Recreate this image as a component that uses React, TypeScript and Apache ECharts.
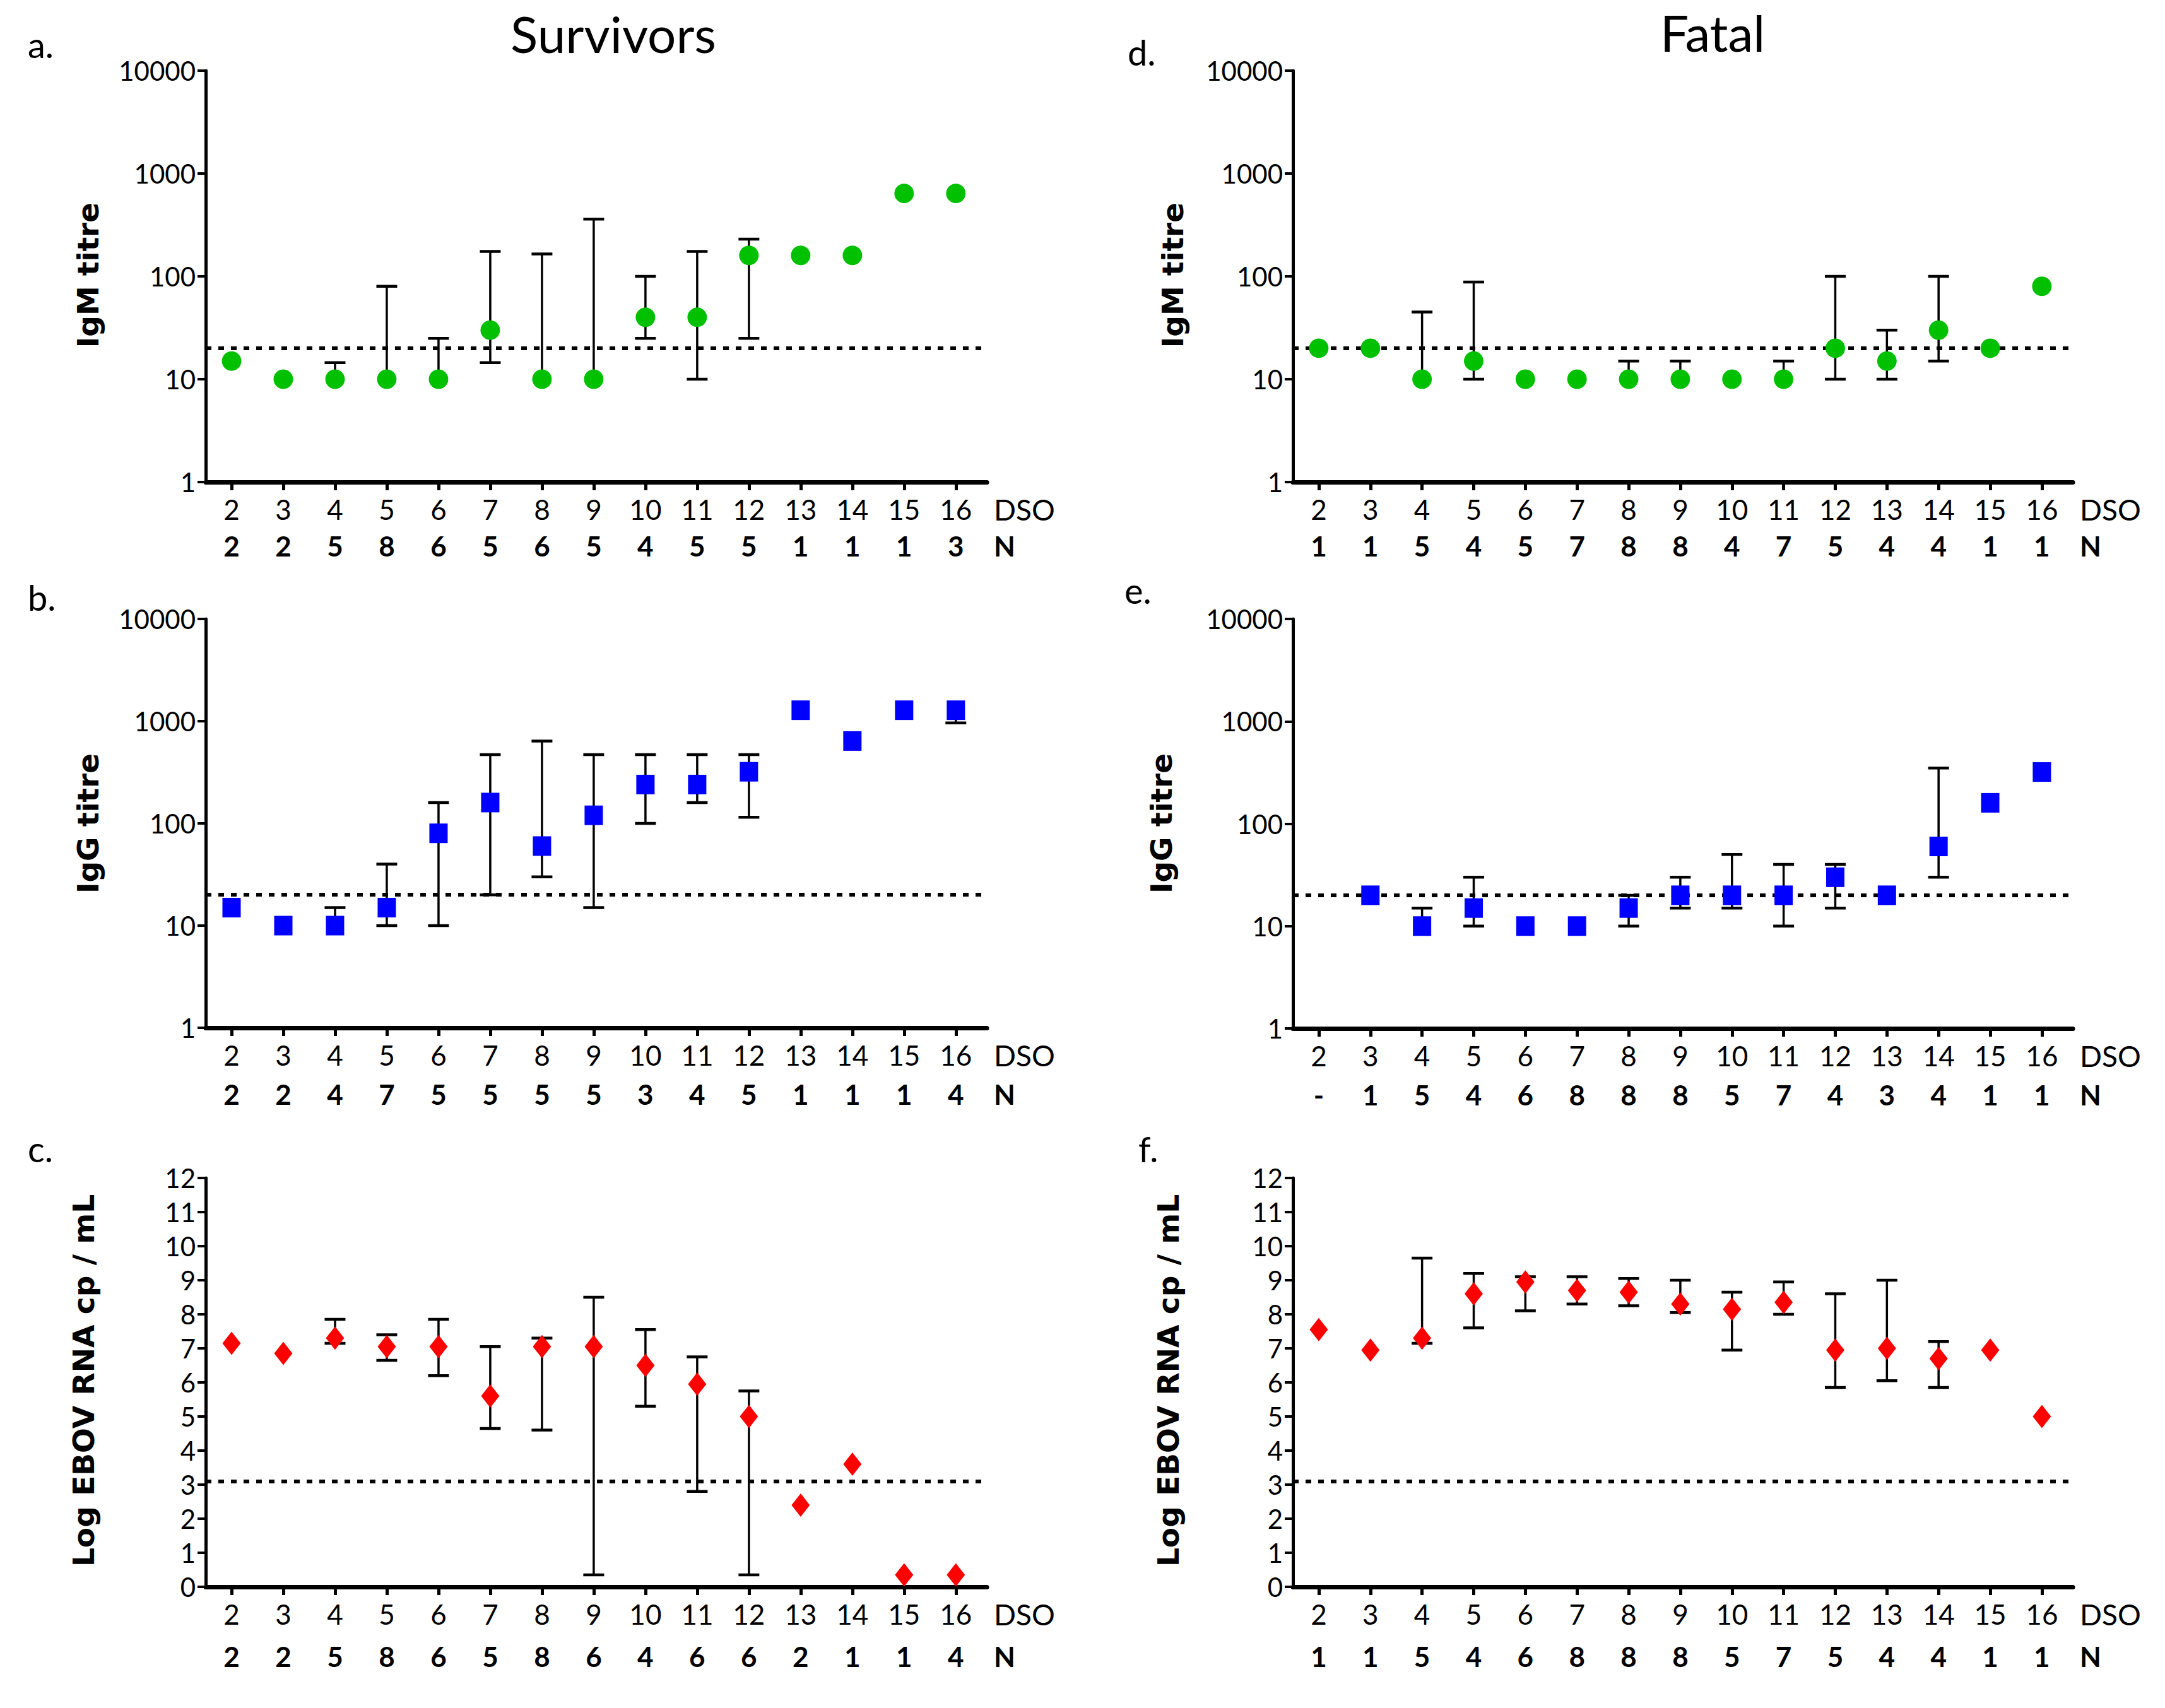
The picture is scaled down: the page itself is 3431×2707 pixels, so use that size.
import React, { useEffect, useRef } from "react";
import * as echarts from "echarts";

// ---------- data ----------
const DSO = [2, 3, 4, 5, 6, 7, 8, 9, 10, 11, 12, 13, 14, 15, 16];

const TITRE_CUTOFF = 20;
const RNA_CUTOFF = 3.1;

// a. Survivors IgM
const survIgmMean = [15, 10, 10, 10, 10, 30, 10, 10, 40, 40, 160, 160, 160, 640, 640];
const survIgmLow = [null, null, null, null, null, 14.5, null, null, 25, 10, 25, null, null, null, null];
const survIgmHigh = [null, null, 14.5, 80, 25, 175, 165, 360, 100, 175, 230, null, null, null, null];
const survIgmN = ["2", "2", "5", "8", "6", "5", "6", "5", "4", "5", "5", "1", "1", "1", "3"];

// b. Survivors IgG
const survIggMean = [15, 10, 10, 15, 80, 160, 60, 120, 240, 240, 320, 1280, 640, 1280, 1280];
const survIggLow = [null, null, null, 10, 10, 20, 30, 15, 100, 160, 115, null, null, null, 960];
const survIggHigh = [null, null, 15, 40, 160, 470, 640, 470, 470, 470, 470, null, null, null, null];
const survIggN = ["2", "2", "4", "7", "5", "5", "5", "5", "3", "4", "5", "1", "1", "1", "4"];

// c. Survivors RNA
const survRnaMean = [7.15, 6.85, 7.3, 7.05, 7.05, 5.6, 7.05, 7.05, 6.5, 5.95, 5.0, 2.4, 3.6, 0.35, 0.35];
const survRnaLow = [null, null, 7.15, 6.65, 6.2, 4.65, 4.6, 0.35, 5.3, 2.8, 0.35, null, null, null, null];
const survRnaHigh = [null, null, 7.85, 7.4, 7.85, 7.05, 7.3, 8.5, 7.55, 6.75, 5.75, null, null, null, null];
const survRnaN = ["2", "2", "5", "8", "6", "5", "8", "6", "4", "6", "6", "2", "1", "1", "4"];

// d. Fatal IgM
const fatalIgmMean = [20, 20, 10, 15, 10, 10, 10, 10, 10, 10, 20, 15, 30, 20, 80];
const fatalIgmLow = [null, null, null, 10, null, null, null, null, null, null, 10, 10, 15, null, null];
const fatalIgmHigh = [null, null, 45, 88, null, null, 15, 15, null, 15, 100, 30, 100, null, null];
const fatalIgmN = ["1", "1", "5", "4", "5", "7", "8", "8", "4", "7", "5", "4", "4", "1", "1"];

// e. Fatal IgG
const fatalIggMean = [null, 20, 10, 15, 10, 10, 15, 20, 20, 20, 30, 20, 60, 160, 320];
const fatalIggLow = [null, null, null, 10, null, null, 10, 15, 15, 10, 15, null, 30, null, null];
const fatalIggHigh = [null, null, 15, 30, null, null, 20, 30, 50, 40, 40, null, 350, null, null];
const fatalIggN = ["-", "1", "5", "4", "6", "8", "8", "8", "5", "7", "4", "3", "4", "1", "1"];

// f. Fatal RNA
const fatalRnaMean = [7.55, 6.95, 7.3, 8.6, 8.95, 8.7, 8.65, 8.3, 8.15, 8.35, 6.95, 7.0, 6.7, 6.95, 5.0];
const fatalRnaLow = [null, null, 7.15, 7.6, 8.1, 8.3, 8.25, 8.05, 6.95, 8.0, 5.85, 6.05, 5.85, null, null];
const fatalRnaHigh = [null, null, 9.65, 9.2, 9.1, 9.1, 9.05, 9.0, 8.65, 8.95, 8.6, 9.0, 7.2, null, null];
const fatalRnaN = ["1", "1", "5", "4", "6", "8", "8", "8", "5", "7", "5", "4", "4", "1", "1"];

const TITRE_TICKS = [1, 10, 100, 1000, 10000];
const RNA_TICKS = [0, 12];

// ---------- styling ----------
const FONT = "Lato, 'Noto Sans', sans-serif";
const TITLE_FONT = "'DejaVu Sans', Verdana, sans-serif";
const GREEN = "#00c000";
const BLUE = "#0000ff";
const RED = "#ff0000";
const INK = "#000000";

type Panel = {
  letter: string;
  grid: { left: number; top: number; width: number; height: number };
  letterPos: [number, number];
  yTitle: string;
  yTitlePos: [number, number];
  mean: (number | null)[];
  low: (number | null)[];
  high: (number | null)[];
  n: string[];
  log: boolean;
  cutoff: number;
  symbol: string;
  symbolSize: number[];
  color: string;
  nLineHeight: number;
};

const panels: Panel[] = [
  {
    letter: "a.", grid: { left: 326, top: 112, width: 1238, height: 652 }, letterPos: [44, 70],
    yTitle: "IgM titre", yTitlePos: [139, 436],
    mean: survIgmMean, low: survIgmLow, high: survIgmHigh, n: survIgmN,
    log: true, cutoff: TITRE_CUTOFF, symbol: "circle", symbolSize: [31, 31], color: GREEN, nLineHeight: 58,
  },
  {
    letter: "b.", grid: { left: 326, top: 981, width: 1238, height: 648 }, letterPos: [44, 946],
    yTitle: "IgG titre", yTitlePos: [139, 1305],
    mean: survIggMean, low: survIggLow, high: survIggHigh, n: survIggN,
    log: true, cutoff: TITRE_CUTOFF, symbol: "rect", symbolSize: [29, 31], color: BLUE, nLineHeight: 66,
  },
  {
    letter: "c.", grid: { left: 326, top: 1867, width: 1238, height: 648 }, letterPos: [44, 1820],
    yTitle: "Log EBOV RNA cp / mL", yTitlePos: [132, 2188],
    mean: survRnaMean, low: survRnaLow, high: survRnaHigh, n: survRnaN,
    log: false, cutoff: RNA_CUTOFF, symbol: "diamond", symbolSize: [29, 37], color: RED, nLineHeight: 76,
  },
  {
    letter: "d.", grid: { left: 2049, top: 112, width: 1236, height: 652 }, letterPos: [1787, 82],
    yTitle: "IgM titre", yTitlePos: [1858, 436],
    mean: fatalIgmMean, low: fatalIgmLow, high: fatalIgmHigh, n: fatalIgmN,
    log: true, cutoff: TITRE_CUTOFF, symbol: "circle", symbolSize: [31, 31], color: GREEN, nLineHeight: 58,
  },
  {
    letter: "e.", grid: { left: 2049, top: 981, width: 1236, height: 649 }, letterPos: [1782, 935],
    yTitle: "IgG titre", yTitlePos: [1840, 1305],
    mean: fatalIggMean, low: fatalIggLow, high: fatalIggHigh, n: fatalIggN,
    log: true, cutoff: TITRE_CUTOFF, symbol: "rect", symbolSize: [29, 31], color: BLUE, nLineHeight: 66,
  },
  {
    letter: "f.", grid: { left: 2049, top: 1867, width: 1236, height: 648 }, letterPos: [1804, 1820],
    yTitle: "Log EBOV RNA cp / mL", yTitlePos: [1851, 2188],
    mean: fatalRnaMean, low: fatalRnaLow, high: fatalRnaHigh, n: fatalRnaN,
    log: false, cutoff: RNA_CUTOFF, symbol: "diamond", symbolSize: [29, 37], color: RED, nLineHeight: 76,
  },
];

function errorBarRender(params: any, api: any) {
  const x = api.value(0);
  const m = api.value(1);
  const lo = api.value(2);
  const hi = api.value(3);
  const pm = api.coord([x, m]);
  const half = 16.5;
  const stem = { stroke: INK, lineWidth: 3.5 };
  const capS = { stroke: INK, lineWidth: 4.5 };
  const children: any[] = [];
  if (hi !== m) {
    const ph = api.coord([x, hi]);
    children.push({ type: "line", shape: { x1: pm[0], y1: pm[1], x2: ph[0], y2: ph[1] }, style: stem });
    children.push({ type: "line", shape: { x1: ph[0] - half, y1: ph[1], x2: ph[0] + half, y2: ph[1] }, style: capS });
  }
  if (lo !== m) {
    const pl = api.coord([x, lo]);
    children.push({ type: "line", shape: { x1: pm[0], y1: pm[1], x2: pl[0], y2: pl[1] }, style: stem });
    children.push({ type: "line", shape: { x1: pl[0] - half, y1: pl[1], x2: pl[0] + half, y2: pl[1] }, style: capS });
  }
  return { type: "group", children };
}

function buildOption() {
  const grid: any[] = [];
  const xAxis: any[] = [];
  const yAxis: any[] = [];
  const series: any[] = [];
  const graphic: any[] = [];

  panels.forEach((p, k) => {
    grid.push({ ...p.grid, containLabel: false, outerBoundsMode: "none" });
    const rich = {
      d: { fontFamily: FONT, fontSize: 44, lineHeight: 58, color: INK },
      n: { fontFamily: FONT, fontSize: 44, fontWeight: "bold", lineHeight: p.nLineHeight, color: INK },
      dn: { fontFamily: FONT, fontSize: 46, lineHeight: 58, color: INK },
    };
    xAxis.push({
      gridIndex: k,
      type: "value",
      min: 1.5,
      max: 16.6,
      name: "{dn|DSO}\n{n|N}",
      nameLocation: "end",
      nameGap: 11,
      nameMoveOverlap: false,
      nameTextStyle: { align: "left", verticalAlign: "top", padding: [14, 0, 0, 0], rich },
      axisLine: { show: true, onZero: false, lineStyle: { color: INK, width: 7 } },
      axisTick: { show: true, customValues: DSO, length: 13, lineStyle: { color: INK, width: 5 } },
      axisLabel: {
        show: true,
        customValues: DSO,
        margin: 14,
        formatter: (v: number) => {
          const i = DSO.indexOf(v);
          return `{d|${v}}\n{n|${i >= 0 ? p.n[i] : ""}}`;
        },
        rich,
      },
      splitLine: { show: false },
    });
    if (p.log) {
      yAxis.push({
        gridIndex: k,
        type: "log",
        logBase: 10,
        min: TITRE_TICKS[0],
        max: TITRE_TICKS[TITRE_TICKS.length - 1],
        axisLine: { show: true, onZero: false, lineStyle: { color: INK, width: 5 } },
        axisTick: { show: true, length: 13, lineStyle: { color: INK, width: 4 } },
        axisLabel: {
          margin: 16,
          fontFamily: FONT,
          fontSize: 42,
          color: INK,
          formatter: (v: number) => String(Math.round(v)),
        },
        splitLine: { show: false },
      });
    } else {
      yAxis.push({
        gridIndex: k,
        type: "value",
        min: RNA_TICKS[0],
        max: RNA_TICKS[1],
        interval: 1,
        axisLine: { show: true, onZero: false, lineStyle: { color: INK, width: 5 } },
        axisTick: { show: true, length: 13, lineStyle: { color: INK, width: 4 } },
        axisLabel: { margin: 16, fontFamily: FONT, fontSize: 42, color: INK },
        splitLine: { show: false },
      });
    }

    const barData: any[] = [];
    const pointData: any[] = [];
    DSO.forEach((d, i) => {
      const m = p.mean[i];
      if (m === null) return;
      pointData.push([d, m]);
      const lo = p.low[i];
      const hi = p.high[i];
      if (lo !== null || hi !== null) {
        barData.push([d, m, lo === null ? m : lo, hi === null ? m : hi]);
      }
    });

    series.push({
      type: "custom",
      xAxisIndex: k,
      yAxisIndex: k,
      renderItem: errorBarRender,
      data: barData,
      encode: { x: 0, y: [1, 2, 3] },
      clip: false,
      silent: true,
      z: 2,
    });
    series.push({
      type: "scatter",
      xAxisIndex: k,
      yAxisIndex: k,
      data: pointData,
      symbol: p.symbol,
      symbolSize: p.symbolSize,
      itemStyle: { color: p.color, opacity: 1 },
      silent: true,
      z: 3,
      markLine: {
        silent: true,
        symbol: ["none", "none"],
        label: { show: false },
        lineStyle: { color: INK, width: 6, type: [9, 11], opacity: 1 },
        emphasis: { disabled: true },
        data: [{ yAxis: p.cutoff }],
        z: 1,
      },
    });

    graphic.push({
      type: "text",
      x: p.letterPos[0],
      y: p.letterPos[1],
      style: { text: p.letter, fontFamily: FONT, fontSize: 56, fill: INK, textAlign: "left", textVerticalAlign: "middle" },
    });
    graphic.push({
      type: "text",
      x: p.yTitlePos[0],
      y: p.yTitlePos[1],
      rotation: Math.PI / 2,
      style: {
        text: p.yTitle, fontFamily: TITLE_FONT, fontSize: 47, fontWeight: "bold", fill: INK,
        textAlign: "center", textVerticalAlign: "middle",
      },
    });
  });

  graphic.push({
    type: "text",
    x: 972,
    y: 53,
    style: { text: "Survivors", fontFamily: FONT, fontSize: 80, fill: INK, textAlign: "center", textVerticalAlign: "middle" },
  });
  graphic.push({
    type: "text",
    x: 2714,
    y: 51,
    style: { text: "Fatal", fontFamily: FONT, fontSize: 80, fill: INK, textAlign: "center", textVerticalAlign: "middle" },
  });

  return {
    animation: false,
    backgroundColor: "#ffffff",
    grid,
    xAxis,
    yAxis,
    series,
    graphic,
  };
}

export default function App() {
  const ref = useRef<HTMLDivElement>(null);
  useEffect(() => {
    document.body.style.margin = "0";
    if (!ref.current) return;
    const chart = echarts.init(ref.current, null, { renderer: "svg" });
    chart.setOption(buildOption() as any);
    return () => chart.dispose();
  }, []);
  return (
    <div
      ref={ref}
      style={{ position: "absolute", left: 0, top: 0, width: 3431, height: 2707, background: "#fff" }}
    />
  );
}
